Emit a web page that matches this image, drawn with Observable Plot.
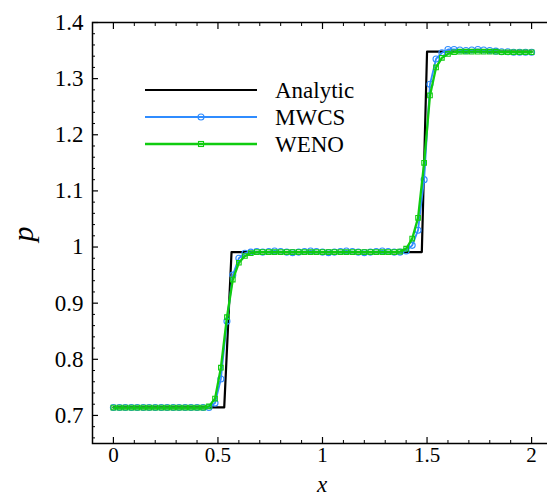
<!DOCTYPE html>
<html><head><meta charset="utf-8">
<script src="https://cdn.jsdelivr.net/npm/d3@7"></script>
<script src="https://cdn.jsdelivr.net/npm/@observablehq/plot@0.6"></script>
<style>
body{margin:0;background:#fff}
#wrap{position:relative;width:547px;height:500px;overflow:hidden;background:#fff}
svg text{font-family:"Liberation Serif","Tinos","DejaVu Serif","Noto Serif",serif !important}
</style>
</head><body><div id="wrap"></div>
<script>
// ---- data ----
const xs = [0,0.029,0.057,0.086,0.114,0.143,0.171,0.2,0.229,0.257,
  0.286,0.314,0.343,0.371,0.4,0.429,0.457,0.486,0.514,0.543,
  0.571,0.6,0.629,0.657,0.686,0.714,0.743,0.771,0.8,0.829,
  0.857,0.886,0.914,0.943,0.971,1.0,1.029,1.057,1.086,1.114,
  1.143,1.171,1.2,1.229,1.257,1.286,1.314,1.343,1.371,1.4,
  1.429,1.457,1.486,1.514,1.543,1.571,1.6,1.629,1.657,1.686,
  1.714,1.743,1.771,1.8,1.829,1.857,1.886,1.914,1.943,1.971,2.0];
const mwcs = [0.714,0.714,0.714,0.714,0.714,0.714,0.714,0.714,0.714,0.714,
  0.714,0.714,0.714,0.714,0.714,0.714,0.714,0.722,0.765,0.868,
  0.950,0.980,0.989,0.991,0.992,0.991,0.992,0.993,0.992,0.991,
  0.990,0.991,0.992,0.993,0.992,0.991,0.990,0.991,0.992,0.993,
  0.992,0.991,0.990,0.991,0.992,0.993,0.992,0.991,0.991,0.993,
  1.003,1.030,1.120,1.290,1.335,1.346,1.352,1.352,1.351,1.350,
  1.351,1.352,1.351,1.350,1.349,1.348,1.348,1.347,1.347,1.347,1.347];
const weno = [0.714,0.714,0.714,0.714,0.714,0.714,0.714,0.714,0.714,0.714,
  0.714,0.714,0.714,0.714,0.714,0.714,0.716,0.730,0.785,0.875,
  0.942,0.972,0.984,0.989,0.991,0.991,0.991,0.991,0.991,0.991,
  0.991,0.991,0.991,0.991,0.991,0.991,0.991,0.991,0.991,0.991,
  0.991,0.991,0.991,0.991,0.991,0.991,0.991,0.991,0.992,0.997,
  1.015,1.052,1.150,1.270,1.320,1.337,1.344,1.347,1.348,1.348,
  1.348,1.348,1.348,1.348,1.348,1.347,1.347,1.347,1.347,1.347,1.347];
const analyticX = [0, 0.53, 0.565, 1.475, 1.50, 2];
const analyticP = [0.7143, 0.7143, 0.991, 0.991, 1.348, 1.348];
const xMajor = [0, 0.5, 1, 1.5, 2];
const xMinor = [0.1,0.2,0.3,0.4,0.6,0.7,0.8,0.9,1.1,1.2,1.3,1.4,1.6,1.7,1.8,1.9];
const yMajor = [0.7, 0.8, 0.9, 1, 1.1, 1.2, 1.3, 1.4];
const yMinor = [0.66,0.68,0.72,0.74,0.76,0.78,0.82,0.84,0.86,0.88,0.92,0.94,0.96,0.98,
  1.02,1.04,1.06,1.08,1.12,1.14,1.16,1.18,1.22,1.24,1.26,1.28,1.32,1.34,1.36,1.38];
const seriesNames = ["Analytic", "MWCS", "WENO"];
const seriesColors = ["#000000", "#2f8cff", "#10cc10"];

const analytic = analyticX.map((x, i) => ({x, p: analyticP[i]}));
const blue = xs.map((x, i) => ({x, p: mwcs[i]}));
const green = xs.map((x, i) => ({x, p: weno[i]}));

const FONT = '"Liberation Serif","Tinos","DejaVu Serif","Noto Serif",serif';
const fmt = d => `${d}`;
const empty = () => "";

const chart = Plot.plot({
  width: 547, height: 500,
  marginLeft: 92, marginRight: -5, marginTop: 22, marginBottom: 57,
  style: {fontFamily: FONT, fontSize: "22px", background: "#fff", overflow: "visible"},
  x: {domain: [-0.1, 2.1]},
  y: {domain: [0.65, 1.4]},
  marks: [
    Plot.axisY(yMajor, {anchor: "left", tickSize: -6, tickPadding: 15, tickFormat: fmt, fontSize: 23, label: null, strokeWidth: 1.2}),
    Plot.axisY(yMinor, {anchor: "left", tickSize: -3, tickFormat: empty, label: null}),
    Plot.axisY(yMajor, {anchor: "right", tickSize: -6, tickFormat: empty, label: null, strokeWidth: 1.2}),
    Plot.axisY(yMinor, {anchor: "right", tickSize: -3, tickFormat: empty, label: null}),
    Plot.axisX(xMajor, {anchor: "bottom", tickSize: -6, tickPadding: 10, tickFormat: fmt, fontSize: 21, label: null, strokeWidth: 1.2}),
    Plot.axisX(xMinor, {anchor: "bottom", tickSize: -3, tickFormat: empty, label: null}),
    Plot.axisX(xMajor, {anchor: "top", tickSize: -6, tickFormat: empty, label: null, strokeWidth: 1.2}),
    Plot.axisX(xMinor, {anchor: "top", tickSize: -3, tickFormat: empty, label: null}),
    Plot.line(analytic, {x: "x", y: "p", stroke: seriesColors[0], strokeWidth: 2.2}),
    Plot.line(blue, {x: "x", y: "p", stroke: seriesColors[1], strokeWidth: 1.8}),
    Plot.dot(blue, {x: "x", y: "p", r: 3, stroke: seriesColors[1], fill: "none", strokeWidth: 1.1}),
    Plot.line(green, {x: "x", y: "p", stroke: seriesColors[2], strokeWidth: 2.3}),
    Plot.dot(green, {x: "x", y: "p", symbol: "square", r: 2.6, stroke: seriesColors[2], fill: "none", strokeWidth: 1.1}),
    Plot.frame({stroke: "black", strokeWidth: 1.5})
  ]
});
document.getElementById("wrap").appendChild(chart);

// axis titles and legend
const svg = d3.select(chart);
svg.append("text").attr("x", 322).attr("y", 492).attr("text-anchor", "middle")
  .attr("font-style", "italic").attr("font-size", 23).text("x");
svg.append("text").attr("transform", "translate(33,234) rotate(-90)").attr("text-anchor", "middle")
  .attr("font-style", "italic").attr("font-size", 30).text("p");

const lg = svg.append("g");
const rowsY = [90, 117, 144];
seriesNames.forEach((name, i) => {
  const y = rowsY[i];
  lg.append("line").attr("x1", 145).attr("x2", 257).attr("y1", y).attr("y2", y)
    .attr("stroke", seriesColors[i]).attr("stroke-width", i === 0 ? 2.2 : (i === 1 ? 1.8 : 2.3));
  if (i === 1) lg.append("circle").attr("cx", 201).attr("cy", y).attr("r", 3)
    .attr("fill", "none").attr("stroke", seriesColors[1]).attr("stroke-width", 1.1);
  if (i === 2) lg.append("rect").attr("x", 198.5).attr("y", y - 2.5).attr("width", 5).attr("height", 5)
    .attr("fill", "none").attr("stroke", seriesColors[2]).attr("stroke-width", 1.1);
  lg.append("text").attr("x", 275).attr("y", y + 8).attr("text-anchor", "start")
    .attr("font-size", 23).attr("fill", "#000").text(name);
});
</script>
</body></html>
